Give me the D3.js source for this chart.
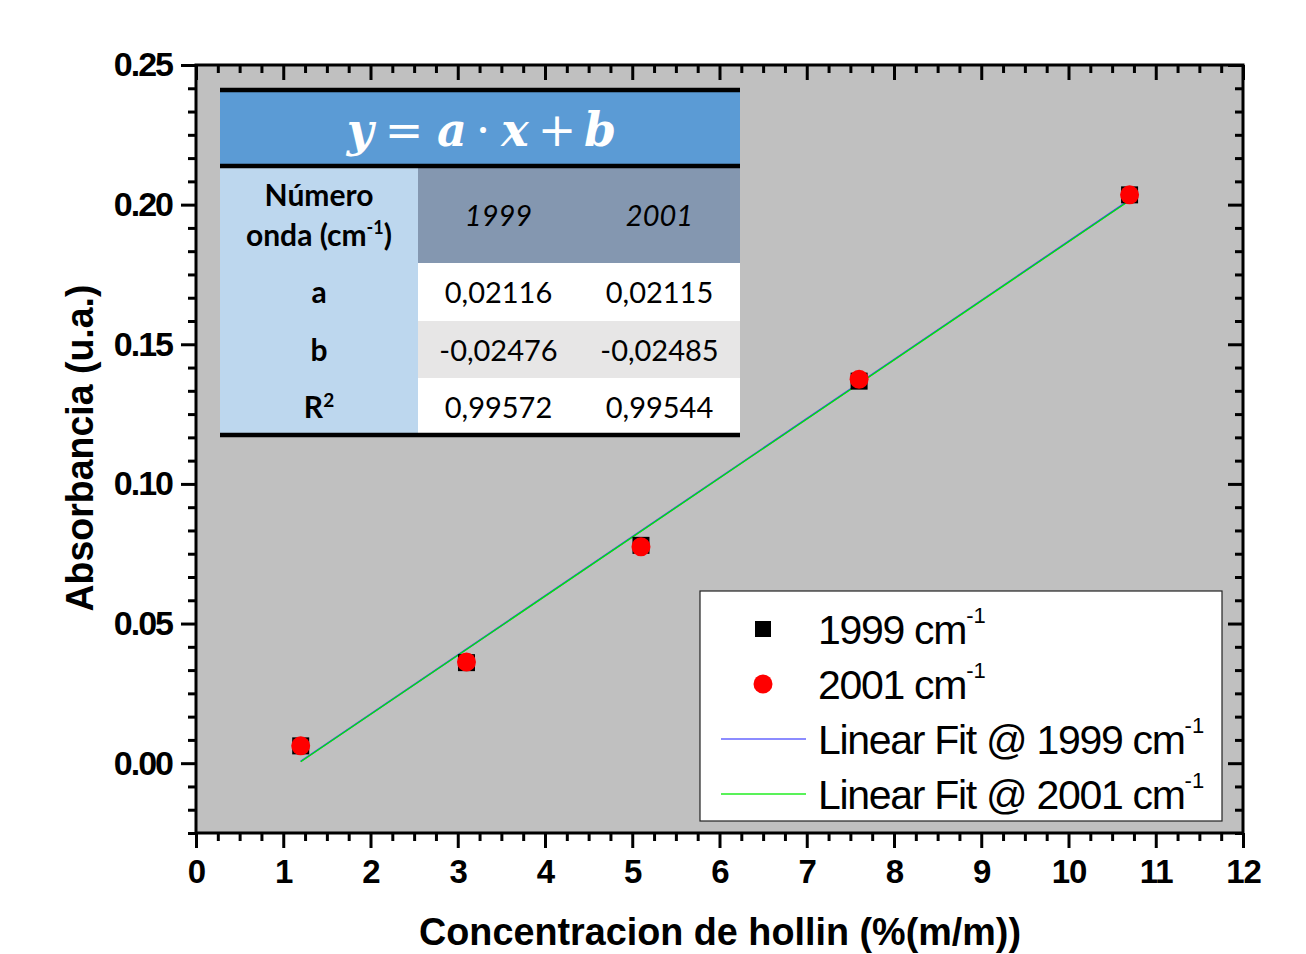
<!DOCTYPE html>
<html><head><meta charset="utf-8">
<script src="https://cdn.jsdelivr.net/npm/d3@7/dist/d3.min.js"></script>
<style>body{margin:0;background:#fff}svg{display:block}</style>
</head><body>
<svg id="c" width="1306" height="954"></svg>
<script>
// ---- data ----
const concentration = [1.2, 3.1, 5.1, 7.6, 10.7];
const abs1999 = [0.0062, 0.0360, 0.0780, 0.1368, 0.2035];
const abs2001 = [0.0062, 0.0362, 0.0775, 0.1375, 0.2035];
const fitA = {"1999": 0.02116, "2001": 0.02115};
const fitB = {"1999": -0.02476, "2001": -0.02485};
const fitRange = [1.2, 10.7];
const xTickValues = [0,1,2,3,4,5,6,7,8,9,10,11,12];
const yTickValues = [0.00, 0.05, 0.10, 0.15, 0.20, 0.25];
const tableCols = ["1999", "2001"];
const tableRowNames = ["a", "b", "R2"];
const tableA = ["0,02116", "0,02115"];
const tableB = ["-0,02476", "-0,02485"];
const tableR2 = ["0,99572", "0,99544"];
const formulaParts = ["y", "=", "a", "·", "x", "+", "b"];
const legendLabels = ["1999 cm", "2001 cm", "Linear Fit @ 1999 cm", "Linear Fit @ 2001 cm"];

const svg = d3.select("#c");
const L = 196, R = 1243, T = 65, B = 833;
const x = d3.scaleLinear().domain([0, 12]).range([L, R]);
const y = d3.scaleLinear().domain([-0.025, 0.25]).range([B, T]);

svg.append("rect").attr("x", L).attr("y", T).attr("width", R-L).attr("height", B-T).attr("fill", "#c0c0c0");

// minor ticks
const xMinor = [];
for (let i = 0; i < 12; i++) for (let k = 1; k < 4; k++) xMinor.push(i + k/4);
const yStep = 0.05/6;
const yMinor = [];
for (let k = 1; k <= 3; k++) yMinor.push(-k*yStep);
yTickValues.slice(0, -1).forEach(v => { for (let k = 1; k < 6; k++) yMinor.push(v + k*yStep); });

function styleAxis(g) {
  g.select(".domain").remove();
  g.selectAll(".tick line").attr("stroke", "#000").attr("stroke-width", 3);
}
const tickFont = "'Liberation Sans', Arial, sans-serif";

// bottom
const gb = svg.append("g").attr("transform", `translate(0,${B})`);
gb.call(d3.axisBottom(x).tickValues(xTickValues).tickSize(15).tickPadding(12).tickFormat(d3.format("d"))).call(styleAxis);
gb.selectAll("text").attr("font-family", tickFont).attr("font-weight", "bold").attr("font-size", 33).attr("fill", "#000").attr("letter-spacing", -1);
svg.append("g").attr("transform", `translate(0,${B})`).call(d3.axisBottom(x).tickValues(xMinor).tickSize(8).tickFormat("")).call(styleAxis);
// top
svg.append("g").attr("transform", `translate(0,${T})`).call(d3.axisTop(x).tickValues(xTickValues).tickSize(-15).tickFormat("")).call(styleAxis);
svg.append("g").attr("transform", `translate(0,${T})`).call(d3.axisTop(x).tickValues(xMinor).tickSize(-8).tickFormat("")).call(styleAxis);
// left
const gl = svg.append("g").attr("transform", `translate(${L},0)`);
gl.call(d3.axisLeft(y).tickValues(yTickValues).tickSize(15).tickPadding(9).tickFormat(d3.format(".2f"))).call(styleAxis);
gl.selectAll("text").attr("font-family", tickFont).attr("font-weight", "bold").attr("font-size", 34).attr("fill", "#000").attr("letter-spacing", -2);
svg.append("g").attr("transform", `translate(${L},0)`).call(d3.axisLeft(y).tickValues(yMinor).tickSize(8).tickFormat("")).call(styleAxis);
// right
svg.append("g").attr("transform", `translate(${R},0)`).call(d3.axisRight(y).tickValues(yTickValues).tickSize(-15).tickFormat("")).call(styleAxis);
svg.append("g").attr("transform", `translate(${R},0)`).call(d3.axisRight(y).tickValues(yMinor).tickSize(-8).tickFormat("")).call(styleAxis);

// frame
svg.append("rect").attr("x", L).attr("y", T).attr("width", R-L).attr("height", B-T).attr("fill", "none").attr("stroke", "#000").attr("stroke-width", 3);

// axis titles
svg.append("text").attr("x", 720).attr("y", 945).attr("text-anchor", "middle")
  .attr("font-family", tickFont).attr("font-weight", "bold").attr("font-size", 39)
  .attr("textLength", 602).attr("lengthAdjust", "spacingAndGlyphs")
  .text("Concentracion de hollin (%(m/m))");
svg.append("text").attr("transform", "translate(93,448) rotate(-90)").attr("text-anchor", "middle")
  .attr("font-family", tickFont).attr("font-weight", "bold").attr("font-size", 39)
  .attr("textLength", 327).attr("lengthAdjust", "spacingAndGlyphs")
  .text("Absorbancia (u.a.)");

// fit lines
const fitLine = k => d3.line().x(d => x(d)).y(d => y(fitA[k]*d + fitB[k]))(fitRange);
svg.append("path").attr("d", fitLine("1999")).attr("stroke", "#3030ff").attr("stroke-width", 1.6).attr("fill", "none");
svg.append("path").attr("d", fitLine("2001")).attr("stroke", "#00ee00").attr("stroke-width", 1.3).attr("fill", "none");

// points
const sq = 17;
svg.append("g").selectAll("rect").data(concentration).join("rect")
  .attr("x", (d) => x(d) - sq/2).attr("y", (d,i) => y(abs1999[i]) - sq/2)
  .attr("width", sq).attr("height", sq).attr("fill", "#000");
svg.append("g").selectAll("circle").data(concentration).join("circle")
  .attr("cx", d => x(d)).attr("cy", (d,i) => y(abs2001[i])).attr("r", 9.5).attr("fill", "#ff0000");

// ---- table ----
const tf = "Lato, 'Open Sans', sans-serif";
const tx0 = 220, tx1 = 418, tx2 = 579, tx3 = 740;
const rowY = [90, 166, 263, 321, 378, 435];
const tg = svg.append("g");
tg.append("rect").attr("x", tx0).attr("y", rowY[0]).attr("width", tx3-tx0).attr("height", rowY[1]-rowY[0]).attr("fill", "#5b9bd5");
tg.append("rect").attr("x", tx0).attr("y", rowY[1]).attr("width", tx1-tx0).attr("height", rowY[5]-rowY[1]).attr("fill", "#bdd7ee");
tg.append("rect").attr("x", tx1).attr("y", rowY[1]).attr("width", tx3-tx1).attr("height", rowY[2]-rowY[1]).attr("fill", "#8497b0");
const rowFills = ["#ffffff", "#e7e6e6", "#ffffff"];
rowFills.forEach((f, i) => tg.append("rect").attr("x", tx1).attr("y", rowY[2+i]).attr("width", tx3-tx1).attr("height", rowY[3+i]-rowY[2+i]).attr("fill", f));
[rowY[0], rowY[1], rowY[5]].forEach(yy => tg.append("line").attr("x1", tx0).attr("x2", tx3).attr("y1", yy).attr("y2", yy).attr("stroke", "#000").attr("stroke-width", 4.5));

// formula (each symbol placed on its own; layout offsets)
const formulaPos = [360, 404, 452, 483, 515, 557, 600];
formulaParts.forEach((s, i) => {
  const isVar = /[a-z]/.test(s);
  tg.append("text").attr("x", formulaPos[i]).attr("y", 146).attr("text-anchor", "middle")
    .attr("font-family", "'DejaVu Serif', 'Liberation Serif', serif")
    .attr("font-style", isVar ? "italic" : "normal").attr("font-weight", isVar ? "bold" : "normal")
    .attr("font-size", 46).attr("fill", "#fff").text(s);
});

const colC = [(tx1+tx2)/2, (tx2+tx3)/2];
const c0 = (tx0+tx1)/2;
tg.append("text").attr("x", c0).attr("y", 206).attr("text-anchor", "middle").attr("font-family", tf).attr("font-weight", "bold").attr("font-size", 30).text("Número");
const on = tg.append("text").attr("x", c0).attr("y", 246).attr("text-anchor", "middle").attr("font-family", tf).attr("font-weight", "bold").attr("font-size", 30);
on.append("tspan").text("onda (cm");
on.append("tspan").attr("font-size", 18).attr("dy", -12).text("-1");
on.append("tspan").attr("dy", 12).text(")");
tableCols.forEach((c, i) => tg.append("text").attr("x", colC[i]).attr("y", 226).attr("text-anchor", "middle")
  .attr("font-family", tf).attr("font-style", "italic").attr("font-size", 29).text(c));
const rowData = [tableA, tableB, tableR2];
tableRowNames.forEach((n, r) => {
  const cy = (rowY[2+r] + rowY[3+r]) / 2 + 11;
  const t = tg.append("text").attr("x", c0).attr("y", cy).attr("text-anchor", "middle").attr("font-family", tf).attr("font-weight", "bold").attr("font-size", 30);
  if (n === "R2") { t.append("tspan").text("R"); t.append("tspan").attr("font-size", 19).attr("dy", -11).text("2"); }
  else t.text(n);
  rowData[r].forEach((v, i) => tg.append("text").attr("x", colC[i]).attr("y", cy).attr("text-anchor", "middle")
    .attr("font-family", tf).attr("font-size", 29).text(v));
});

// ---- legend ----
const lg = svg.append("g");
lg.append("rect").attr("x", 700).attr("y", 591).attr("width", 522).attr("height", 230).attr("fill", "#fff").attr("stroke", "#222").attr("stroke-width", 1.2);
const ly = [629, 684, 739, 794];
lg.append("rect").attr("x", 763-8).attr("y", ly[0]-8).attr("width", 16).attr("height", 16).attr("fill", "#000");
lg.append("circle").attr("cx", 763).attr("cy", ly[1]).attr("r", 9.5).attr("fill", "#ff0000");
lg.append("line").attr("x1", 721).attr("x2", 806).attr("y1", ly[2]).attr("y2", ly[2]).attr("stroke", "#6666ff").attr("stroke-width", 1.5);
lg.append("line").attr("x1", 721).attr("x2", 806).attr("y1", ly[3]).attr("y2", ly[3]).attr("stroke", "#22ee22").attr("stroke-width", 1.5);
legendLabels.forEach((s, i) => {
  const t = lg.append("text").attr("x", 818).attr("y", ly[i] + 15).attr("font-family", tickFont).attr("font-size", 41).attr("letter-spacing", -1.3);
  t.append("tspan").text(s);
  t.append("tspan").attr("font-size", 22).attr("dy", -21).attr("letter-spacing", 0).text("-1");
});
</script>
</body></html>
